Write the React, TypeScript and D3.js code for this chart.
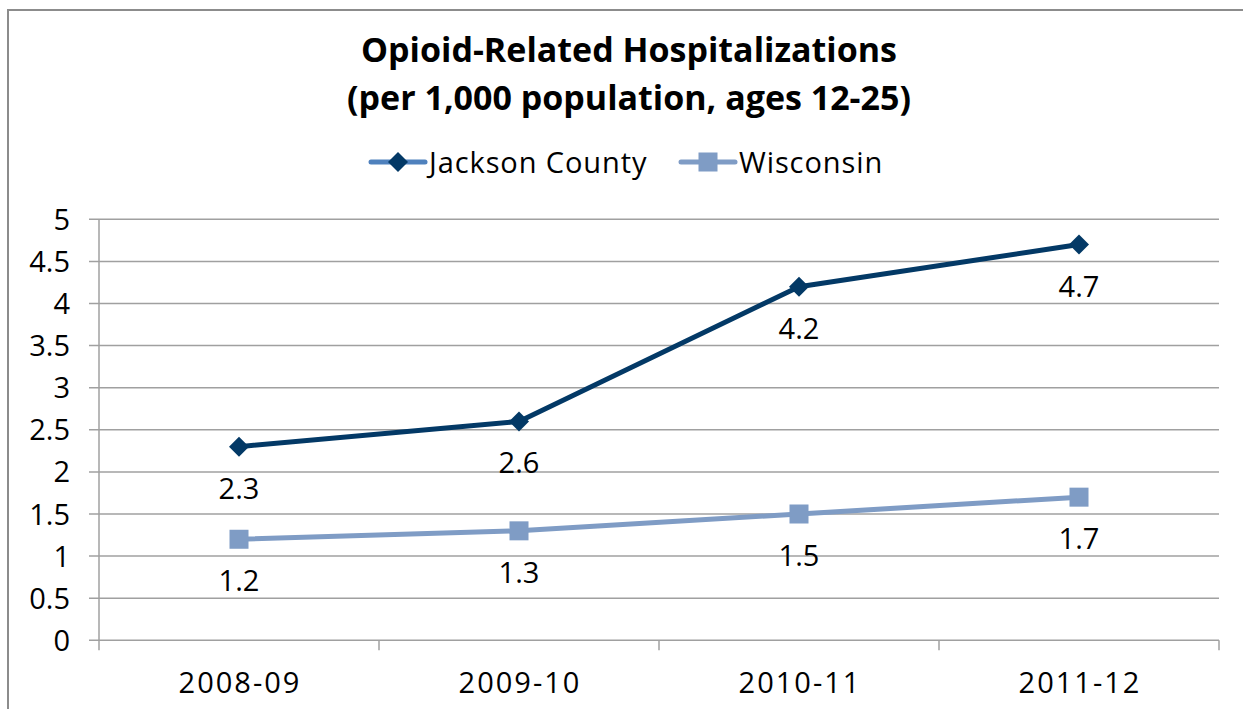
import React, { useEffect, useRef } from 'react';
import * as d3 from 'd3';

const categories = ['2008-09', '2009-10', '2010-11', '2011-12'];
const jacksonValues = [2.3, 2.6, 4.2, 4.7];
const wisconsinValues = [1.2, 1.3, 1.5, 1.7];
const yTicks = [0, 0.5, 1, 1.5, 2, 2.5, 3, 3.5, 4, 4.5, 5];
const titleLines = ['Opioid-Related Hospitalizations', '(per 1,000 population, ages 12-25)'];

const FONT = '"Open Sans", Lato, sans-serif';
const FS = '29px';

const App: React.FC = () => {
  const ref = useRef<SVGSVGElement | null>(null);

  useEffect(() => {
    if (!ref.current) return;
    const W = 1243;
    const H = 709;
    const svg = d3.select(ref.current).attr('width', W).attr('height', H);
    svg.selectAll('*').remove();

    // outer frame (cut off at right and bottom)
    svg.append('rect')
      .attr('x', 8).attr('y', 10)
      .attr('width', W + 20).attr('height', H + 20)
      .attr('fill', 'white')
      .attr('stroke', '#8c8c8c').attr('stroke-width', 2);

    const left = 99, right = 1219, top = 219.3, bottom = 640.3;

    const x = d3.scaleBand().domain(categories).range([left, right]);
    const y = d3.scaleLinear().domain([0, 5]).range([bottom, top]);
    const cx = (c: string) => (x(c) || 0) + x.bandwidth() / 2;

    // gridlines
    svg.append('g')
      .selectAll('line')
      .data(yTicks)
      .enter().append('line')
      .attr('x1', left - 10).attr('x2', right)
      .attr('y1', (d) => y(d)).attr('y2', (d) => y(d))
      .attr('stroke', '#a0a0a0').attr('stroke-width', 1.5);

    // y axis line
    svg.append('line')
      .attr('x1', left).attr('x2', left)
      .attr('y1', top).attr('y2', bottom + 10)
      .attr('stroke', '#a0a0a0').attr('stroke-width', 1.5);

    // x tick marks at band boundaries
    const bounds = categories.map((c) => x(c) || 0).concat([right]);
    svg.append('g')
      .selectAll('line')
      .data(bounds.slice(1))
      .enter().append('line')
      .attr('x1', (d) => d).attr('x2', (d) => d)
      .attr('y1', bottom).attr('y2', bottom + 10)
      .attr('stroke', '#a0a0a0').attr('stroke-width', 1.5);

    // y tick labels
    svg.append('g')
      .selectAll('text')
      .data(yTicks)
      .enter().append('text')
      .attr('x', 70)
      .attr('y', (d) => y(d) + 10.5)
      .attr('text-anchor', 'end')
      .style('font-family', FONT)
      .style('font-size', FS)
      .style('fill', '#000')
      .text((d) => String(d));

    // x labels
    svg.append('g')
      .selectAll('text')
      .data(categories)
      .enter().append('text')
      .attr('x', (d) => cx(d) + 1)
      .attr('y', 693)
      .attr('text-anchor', 'middle')
      .style('font-family', FONT)
      .style('font-size', FS)
      .style('letter-spacing', '2px')
      .style('fill', '#000')
      .text((d) => d);

    // title
    svg.append('g')
      .selectAll('text')
      .data(titleLines)
      .enter().append('text')
      .attr('x', 629)
      .attr('y', (_, i) => 62 + i * 48)
      .attr('text-anchor', 'middle')
      .style('font-family', FONT)
      .style('font-weight', 'bold')
      .style('font-size', '34px')
      .style('fill', '#000')
      .text((d) => d);

    const line = d3.line<number>()
      .x((_, i) => cx(categories[i]))
      .y((d) => y(d));

    const series = [
      { name: 'Jackson County', values: jacksonValues, color: '#033966', legendLine: '#4f81bd', marker: 'diamond' },
      { name: 'Wisconsin', values: wisconsinValues, color: '#7f9cc5', legendLine: '#7f9cc5', marker: 'square' },
    ];

    const drawMarker = (g: d3.Selection<SVGGElement, unknown, null, undefined>, kind: string, px: number, py: number, color: string) => {
      if (kind === 'diamond') {
        g.append('path')
          .attr('d', `M${px},${py - 10}L${px + 10},${py}L${px},${py + 10}L${px - 10},${py}Z`)
          .attr('fill', color);
      } else {
        g.append('rect')
          .attr('x', px - 9.5).attr('y', py - 9.5)
          .attr('width', 19).attr('height', 19)
          .attr('fill', color);
      }
    };

    series.forEach((s) => {
      svg.append('path')
        .datum(s.values)
        .attr('d', line)
        .attr('fill', 'none')
        .attr('stroke', s.color)
        .attr('stroke-width', 5)
        .attr('stroke-linejoin', 'round');

      const g = svg.append('g');
      s.values.forEach((v, i) => drawMarker(g, s.marker, cx(categories[i]), y(v), s.color));

      svg.append('g')
        .selectAll('text')
        .data(s.values)
        .enter().append('text')
        .attr('x', (_, i) => cx(categories[i]))
        .attr('y', (d) => y(d) + 52)
        .attr('text-anchor', 'middle')
        .style('font-family', FONT)
        .style('font-size', FS)
        .style('fill', '#000')
        .text((d) => String(d));
    });

    // legend
    const legendX = [371, 681];
    series.forEach((s, i) => {
      const g = svg.append('g').attr('transform', `translate(${legendX[i]},162)`);
      g.append('line')
        .attr('x1', 0).attr('x2', 54)
        .attr('y1', 0).attr('y2', 0)
        .attr('stroke', s.legendLine).attr('stroke-width', 5)
        .attr('stroke-linecap', 'round');
      drawMarker(g, s.marker, 27, 0, s.color);
      g.append('text')
        .attr('x', 58).attr('y', 10.5)
        .style('font-family', FONT)
        .style('font-size', FS)
        .style('letter-spacing', '0.9px')
        .style('fill', '#000')
        .text(s.name);
    });
  }, []);

  return <svg ref={ref} style={{ position: 'absolute', left: 0, top: 0 }}></svg>;
};

export default App;
